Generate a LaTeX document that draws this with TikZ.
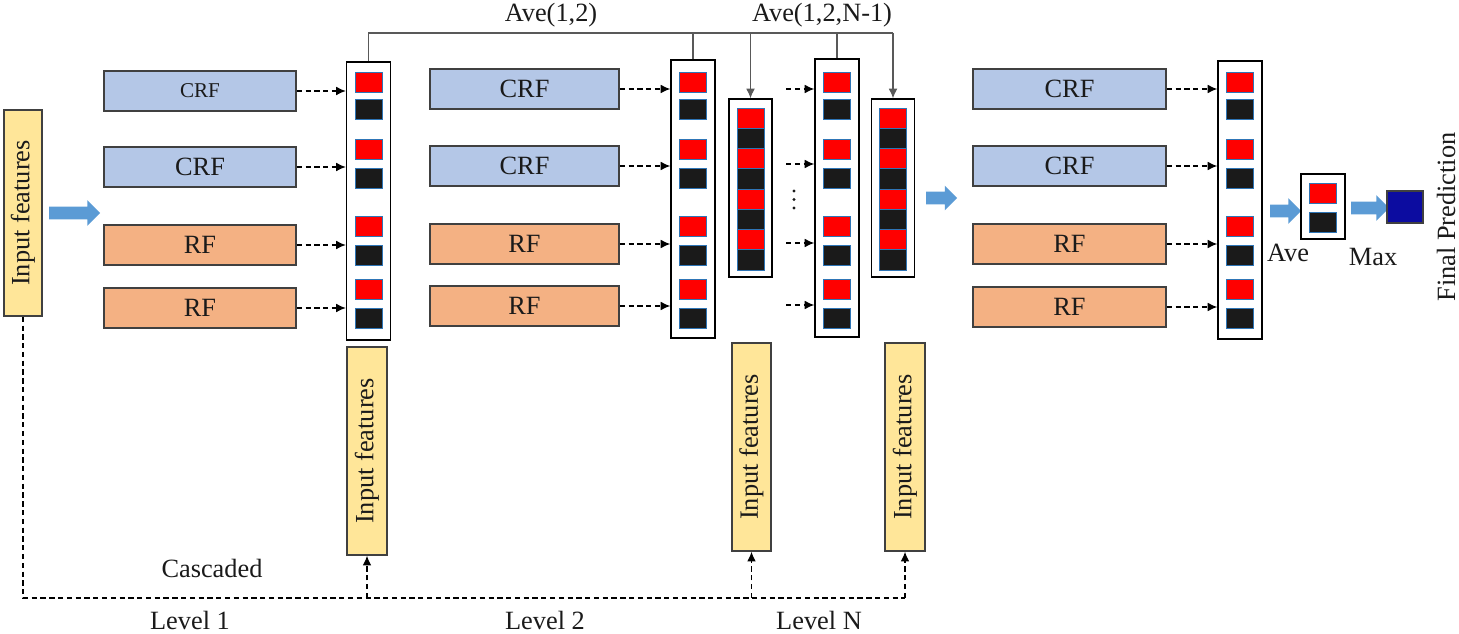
\documentclass[tikz,border=0pt]{standalone}
\usepackage{fontspec}
\setmainfont{Liberation Serif}
\usetikzlibrary{arrows.meta,shapes.arrows}
\definecolor{crfblue}{HTML}{B4C7E7}
\definecolor{rforange}{HTML}{F4B183}
\definecolor{infyellow}{HTML}{FFE699}
\definecolor{arrblue}{HTML}{5B9BD5}
\definecolor{sqblue}{HTML}{2E75B6}
\definecolor{predblue}{HTML}{0C0CA0}
\definecolor{edgegray}{HTML}{404040}
\definecolor{txtcol}{HTML}{1A1A1A}
\definecolor{sqblack}{HTML}{1A1A1A}
\definecolor{linegray}{HTML}{595959}
\begin{document}
\begin{tikzpicture}[x=0.02cm,y=-0.02cm,
  font=\fontsize{15}{18}\selectfont, text=txtcol,
  wh/.style n args={2}{minimum width=#1*0.02cm, minimum height=#2*0.02cm},
  model/.style={draw=edgegray, line width=0.9pt, inner sep=0pt, wh={192}{40}},
  crf/.style={model, fill=crfblue},
  rf/.style={model, fill=rforange},
  inp/.style={draw=edgegray, line width=0.9pt, fill=infyellow, inner sep=0pt, rotate=90, wh={208}{40}},
  col/.style={draw=black, line width=0.8pt, fill=white, inner sep=0pt, wh={44}{278}},
  tcol/.style={draw=black, line width=0.8pt, fill=white, inner sep=0pt, wh={43}{178}},
  sq/.style={draw=sqblue, line width=0.5pt, inner sep=0pt, wh={27}{20}},
  rsq/.style={sq, fill=red},
  bsq/.style={sq, fill=sqblack},
  dar/.style={dash pattern=on 3pt off 2pt, line width=0.7pt, -{Latex[length=5.5pt,width=5pt]}},
  dline/.style={dash pattern=on 3pt off 2pt, line width=0.7pt},
  gline/.style={draw=linegray, line width=0.6pt},
  gar/.style={gline, -{Latex[length=5.5pt,width=5pt]}},
  barrow/.style={single arrow, fill=arrblue, draw=none, inner sep=0pt, inner ysep=0.12cm,
     single arrow head extend=0.13cm, single arrow tip angle=90}
]
\useasboundingbox (0,0) rectangle (1459,634);

% ---------- left input ----------
\node[inp, wh={206}{38}] (in0) at (23,213) {Input features};
\node[barrow, minimum height=51*0.02cm] (ba1) at (71.5,213) {};

% ---------- Level 1 ----------
\node[crf, font=\fontsize{12}{14}\selectfont] (a1) at (200,91) {CRF};
\node[crf] (a2) at (200,167) {CRF};
\node[rf] (a3) at (200,245) {RF};
\node[rf] (a4) at (200,308) {RF};
\node[col] (col1) at (368.5,201) {};

% ---------- Level 2 ----------
\node[crf, wh={189}{40}] (b1) at (524.5,89) {CRF};
\node[crf, wh={189}{40}] (b2) at (524.5,166) {CRF};
\node[rf, wh={189}{40}] (b3) at (524.5,244) {RF};
\node[rf, wh={189}{40}] (b4) at (524.5,306) {RF};
\node[col] (col2) at (693,199) {};
\node[tcol] (col2b) at (750.5,188) {};

% ---------- Level N ----------
\node[col] (col3) at (837,198) {};
\node[tcol] (col3b) at (893,188) {};
\node[barrow, minimum height=31*0.02cm, single arrow head extend=0.12cm] (ba2) at (938.5,198) {};
\node[crf, wh={193}{40}] (c1) at (1069.5,89) {CRF};
\node[crf, wh={193}{40}] (c2) at (1069.5,166) {CRF};
\node[rf, wh={193}{40}] (c3) at (1069.5,244) {RF};
\node[rf, wh={193}{40}] (c4) at (1069.5,307) {RF};
\node[col] (colF) at (1240,200) {};

% ---------- squares in columns ----------
\foreach \cx/\nm in {368.5/p, 693/q, 837/r, 1240/s}{
  \foreach \ry/\by [count=\i] in {82/109, 149/178, 226/255, 289/318}{
    \node[rsq] (\nm r\i) at (\cx,\ry) {};
    \node[bsq] (\nm b\i) at (\cx,\by) {};
  }
}
\foreach \cx/\nm in {750.5/u, 893/v}{
  \foreach \k in {0,2,4,6}{
    \node[rsq, wh={27}{20.25}] (\nm c\k) at (\cx,{118.1+20.25*\k}) {};
  }
  \foreach \k in {1,3,5,7}{
    \node[bsq, wh={27}{20.25}] (\nm c\k) at (\cx,{118.1+20.25*\k}) {};
  }
}

% ---------- dashed arrows into columns ----------
\foreach \m in {a1,a2,a3,a4}{ \draw[dar] (\m.east) -- (\m.east -| col1.west); }
\foreach \m in {b1,b2,b3,b4}{ \draw[dar] (\m.east) -- (\m.east -| col2.west); }
\foreach \m in {c1,c2,c3,c4}{ \draw[dar] (\m.east) -- (\m.east -| colF.west); }
\coordinate (s1) at (786,89);
\coordinate (s2) at (786,164);
\coordinate (s3) at (786,243);
\coordinate (s4) at (786,305);
\foreach \m in {s1,s2,s3,s4}{ \draw[dar] (\m) -- (\m -| col3.west); }
\foreach \dy in {191,199.5,208}{ \fill[txtcol] (794,\dy) circle (1.6); }

% ---------- averaging links on top ----------
\coordinate (t1) at (368.5,33);
\coordinate (t5) at (893,33);
\draw[gline] (col1.north) -- (t1) -- (t5);
\draw[gline] (col2.north) -- (col2.north |- t1);
\draw[gline] (col3.north) -- (col3.north |- t1);
\draw[gar] (col2b.north |- t1) -- (col2b.north);
\draw[gar] (t5) -- (col3b.north);
\node (ave12) at (551,15) {Ave(1,2)};
\node (aveN) at (822,15) {Ave(1,2,N-1)};

% ---------- input features per level ----------
\node[inp] (in1) at (367,451) {Input features};
\node[inp, wh={208}{39}] (in2) at (751.5,447) {Input features};
\node[inp] (in3) at (905,447) {Input features};

\coordinate (k0) at (23,598);
\coordinate (k1) at (367,598);
\coordinate (k2) at (751.5,598);
\coordinate (k3) at (905,598);
\draw[dline] (in0.west) -- (k0) -- (k3);
\draw[dar] (k1) -- (in1.west);
\draw[dar] (k2) -- (in2.west);
\draw[dar] (k3) -- (in3.west);

\node (casc) at (212,568) {Cascaded};
\node (lev1) at (190,620) {Level 1};
\node (lev2) at (545,620) {Level 2};
\node (levN) at (819,620) {Level N};

% ---------- final averaging and prediction ----------
\node[barrow, minimum height=31*0.02cm] (ba3) at (1282.5,211) {};
\node[draw=black, line width=0.8pt, fill=white, inner sep=0pt, wh={44}{65}] (avebox) at (1323,206.5) {};
\node[rsq] (fr) at (1323,193) {};
\node[bsq] (fb) at (1323,222) {};
\node[barrow, minimum height=38*0.02cm] (ba4) at (1367,208) {};
\node[draw=edgegray, line width=0.8pt, fill=predblue, inner sep=0pt, wh={36}{32}] (pred) at (1405,207) {};
\node (avetxt) at (1288,253) {Ave};
\node (maxtxt) at (1373,257) {Max};
\node[rotate=90, inner sep=0pt] (final) at (1446,217) {Final Prediction};
\end{tikzpicture}
\end{document}
